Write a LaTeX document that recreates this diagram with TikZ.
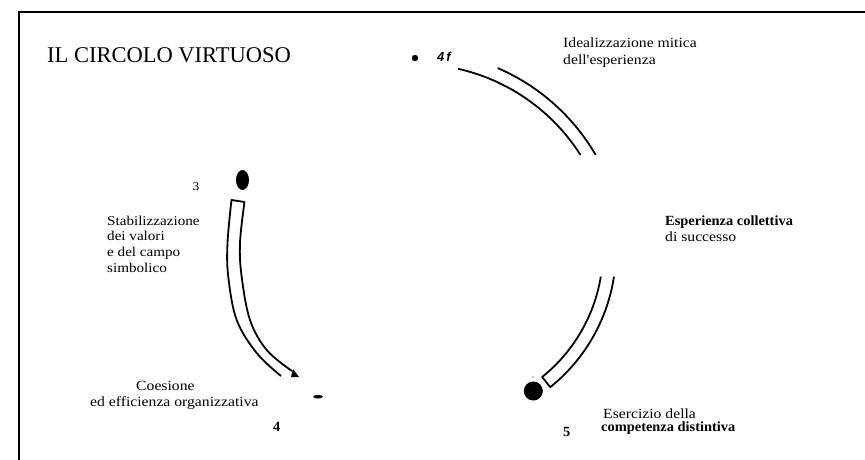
\documentclass[tikz,border=0pt]{standalone}
\usepackage{fontspec}
\setmainfont{Liberation Serif}
\newfontfamily\lab[FakeStretch=1.12,Ligatures=TeXOff]{Liberation Serif}
\newfontfamily\labb[FakeStretch=1.03,Ligatures=TeXOff]{Liberation Serif}
\newfontfamily\sansbi{Liberation Sans}
\begin{document}
\begin{tikzpicture}[x=1pt,y=-1pt,
  tube/.style={line width=1.8pt, line join=round},
  lbl/.style={anchor=base west, inner sep=0pt, text=black, font=\lab\fontsize{14}{17}\selectfont},
  lbls/.style={anchor=base west, inner sep=0pt, text=black, font=\lab\fontsize{13.5}{16}\selectfont},
  lblb/.style={anchor=base west, inner sep=0pt, text=black, font=\labb\bfseries\fontsize{14}{17}\selectfont},
  ttl/.style={anchor=base west, inner sep=0pt, text=black, font=\rmfamily\fontsize{22.5}{27}\selectfont}]
\useasboundingbox (0,0) rectangle (865,460);
\fill[white] (0,0) rectangle (865,460);
% frame
\draw[line width=2pt] (19,460) -- (19,11.7) -- (865,11.7);

% top-right arc (two open lines)
\draw[tube] plot[domain=77.3:32.4, samples=50] ({415+196*cos(\x)},{260-196*sin(\x)});
\draw[tube] plot[domain=66.7:30.2, samples=50] ({415+209*cos(\x)},{260-209*sin(\x)});

% bottom-right arc (open top, capped bottom)
\draw[tube] plot[domain=8.7:51.2, samples=50] ({440+176*cos(\x)},{250+176*sin(\x)})
  -- plot[domain=51.2:9.4, samples=50] ({440+163*cos(\x)},{250+163*sin(\x)});

% left arc (tube)
\draw[tube] plot[smooth, tension=0.6] coordinates {(281,376) (256.7,353) (236.7,320) (228.3,277) (227.5,243) (231.5,200)}
  -- plot[smooth, tension=0.6] coordinates {(244.5,202) (240,243) (241.7,277) (250,320) (266.7,350) (292,371)};
\fill (293,369) -- (299,377) -- (291,377) -- cycle;

% dots
\fill (415,58) circle[radius=3.2];
\fill (242.5,180) ellipse[x radius=6.5, y radius=10];
\fill (318,396.7) ellipse[x radius=4.8, y radius=1.8];
\fill (533.3,391) circle[radius=9.5];
\fill (533,377) circle[radius=0.6];

% texts
\node[ttl] (title) at (47,63) {IL CIRCOLO VIRTUOSO};
\node[anchor=base west, inner sep=0pt, font=\sansbi\bfseries\itshape\fontsize{13}{15}\selectfont] (n4f) at (437,62) {4\hspace{2pt}f};
\node[lbl] (ideal1) at (563,48) {Idealizzazione mitica};
\node[lbl] (ideal2) at (563,65) {dell'esperienza};
\node[lblb] (esp1) at (665,225) {Esperienza collettiva};
\node[lbl] (esp2) at (665,241.7) {di successo};
\node[anchor=base west, inner sep=0pt, font=\lab\fontsize{12}{14}\selectfont] (n3) at (192.5,190) {3};
\node[lbls] (stab1) at (107,225) {Stabilizzazione};
\node[lbls] (stab2) at (107,240.7) {dei valori};
\node[lbls] (stab3) at (107,256.4) {e del campo};
\node[lbls] (stab4) at (107,272) {simbolico};
\node[lbl] (coes1) at (136,390) {Coesione};
\node[lbl] (coes2) at (90,406.7) {ed efficienza organizzativa};
\node[lblb] (n4) at (273,431.7) {4};
\node[lbl] (eser1) at (603,418) {Esercizio della};
\node[lblb] (eser2) at (601,431) {competenza distintiva};
\node[lblb] (n5) at (563,436.7) {5};
\end{tikzpicture}
\end{document}
